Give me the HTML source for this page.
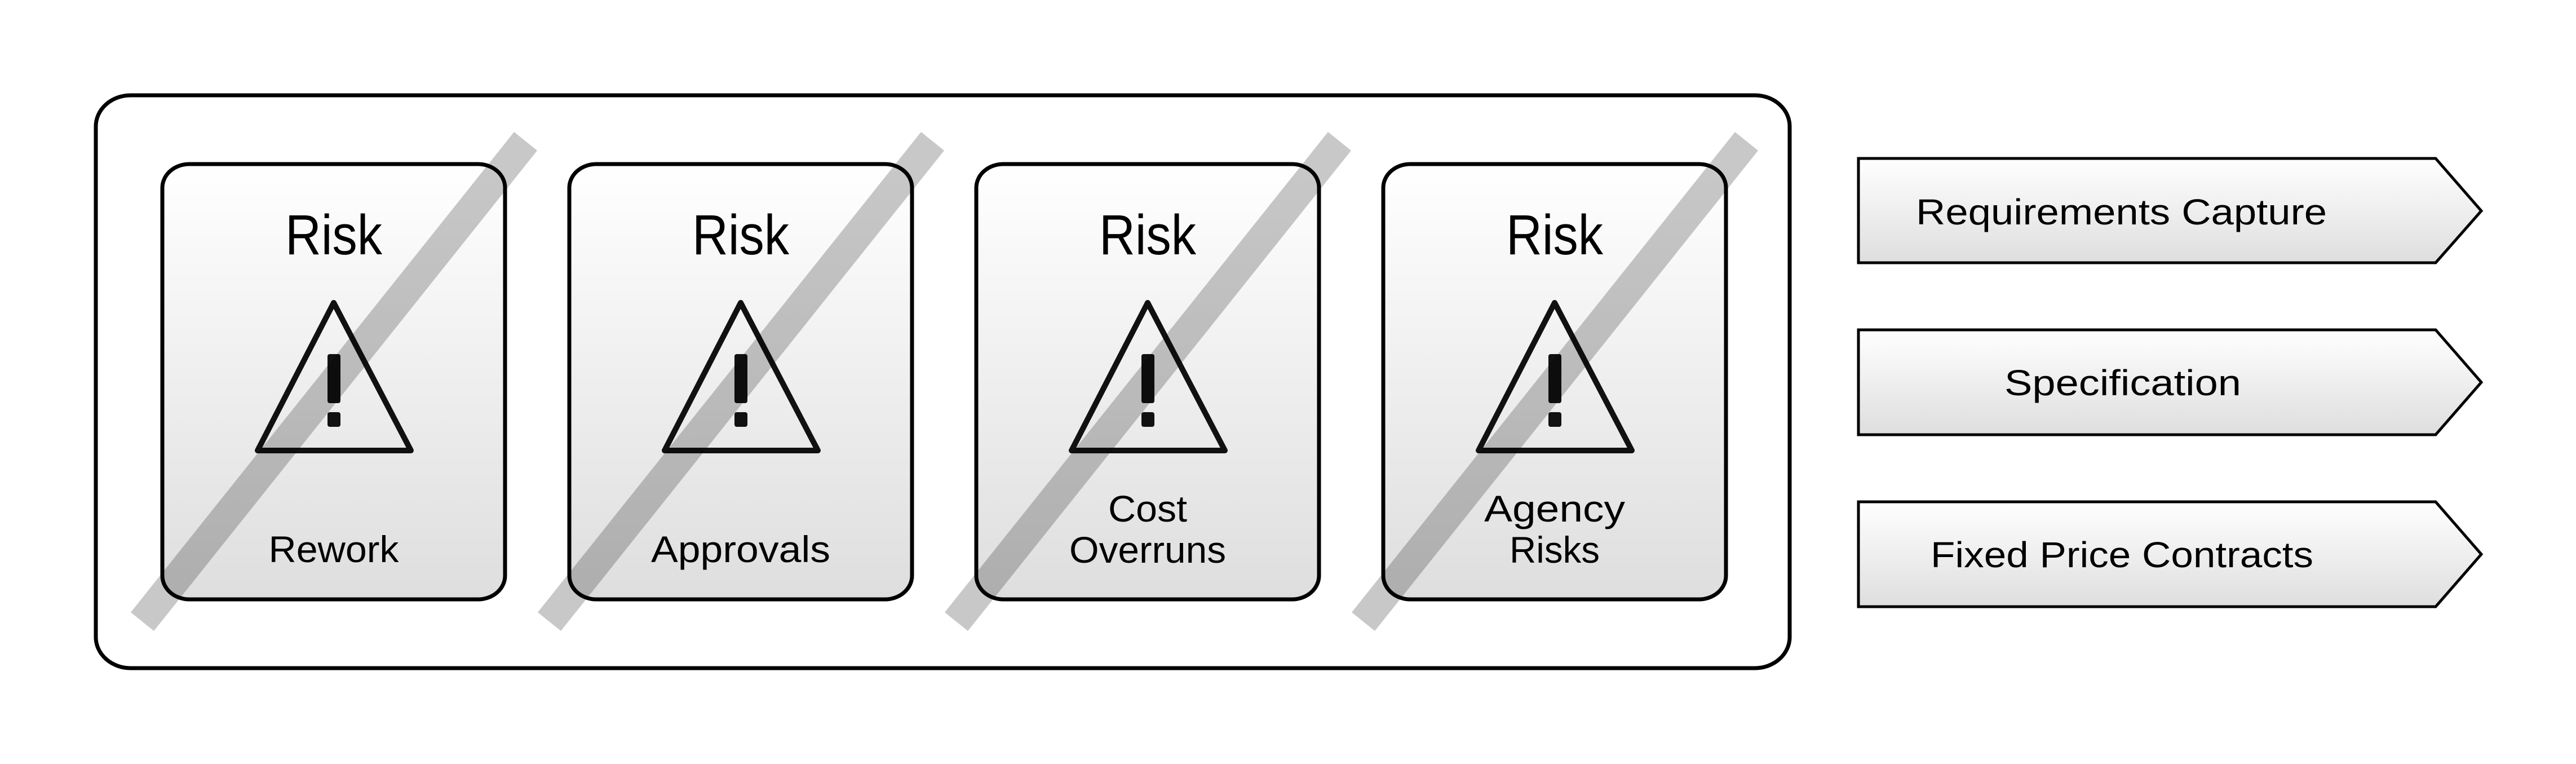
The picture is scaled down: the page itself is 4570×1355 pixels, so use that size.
<!DOCTYPE html>
<html><head><meta charset="utf-8"><style>html,body{margin:0;padding:0;background:#fff}svg{display:block}</style></head>
<body>
<svg width="4570" height="1355" viewBox="0 0 4570 1355" xmlns="http://www.w3.org/2000/svg" font-family="Liberation Sans, sans-serif">
<defs>
<linearGradient id="g" x1="0" y1="0" x2="0" y2="1"><stop offset="0" stop-color="#ffffff"/><stop offset="1" stop-color="#dedede"/></linearGradient>
<g id="card">
<rect x="0" y="0" width="608" height="772" rx="48" ry="42" fill="url(#g)" stroke="#000" stroke-width="7"/>
<text x="304" y="160" font-size="100" text-anchor="middle" textLength="172" lengthAdjust="spacingAndGlyphs">Risk</text>
<polygon points="304,246 169,508 441,508" fill="none" stroke="#111" stroke-width="10" stroke-linejoin="round"/>
<rect x="293" y="337" width="23" height="87" rx="4" fill="#111"/>
<rect x="293" y="440" width="23" height="26" rx="4" fill="#111"/>
</g>
<polygon id="stripe" points="912,234 953,267 273,1119 232,1086" fill="#000" fill-opacity="0.215"/>
</defs>
<rect x="170" y="169" width="3005" height="1016" rx="62" ry="55" fill="#fff" stroke="#000" stroke-width="7"/>
<use href="#card" x="288" y="291"/>
<use href="#card" x="1010" y="291"/>
<use href="#card" x="1732" y="291"/>
<use href="#card" x="2454" y="291"/>
<g font-size="66" text-anchor="middle">
<text x="592" y="997" textLength="231" lengthAdjust="spacingAndGlyphs">Rework</text>
<text x="1314" y="997" textLength="318" lengthAdjust="spacingAndGlyphs">Approvals</text>
<text x="2036" y="925" textLength="140" lengthAdjust="spacingAndGlyphs">Cost</text>
<text x="2036" y="998" textLength="278" lengthAdjust="spacingAndGlyphs">Overruns</text>
<text x="2758" y="925" textLength="250" lengthAdjust="spacingAndGlyphs">Agency</text>
<text x="2758" y="998" textLength="160" lengthAdjust="spacingAndGlyphs">Risks</text>
</g>
<use href="#stripe" x="0" y="0"/>
<use href="#stripe" x="722" y="0"/>
<use href="#stripe" x="1444" y="0"/>
<use href="#stripe" x="2166" y="0"/>
<g stroke="#000" stroke-width="5" fill="url(#g)">
<polygon points="3297,281 4321,281 4402,374 4321,466 3297,466"/>
<polygon points="3297,585 4321,585 4402,678 4321,771 3297,771"/>
<polygon points="3297,890 4321,890 4402,983 4321,1076 3297,1076"/>
</g>
<g font-size="64">
<text x="3399" y="398" textLength="729" lengthAdjust="spacingAndGlyphs">Requirements Capture</text>
<text x="3556" y="701" textLength="420" lengthAdjust="spacingAndGlyphs">Specification</text>
<text x="3425" y="1006" textLength="679" lengthAdjust="spacingAndGlyphs">Fixed Price Contracts</text>
</g>
</svg>
</body></html>
